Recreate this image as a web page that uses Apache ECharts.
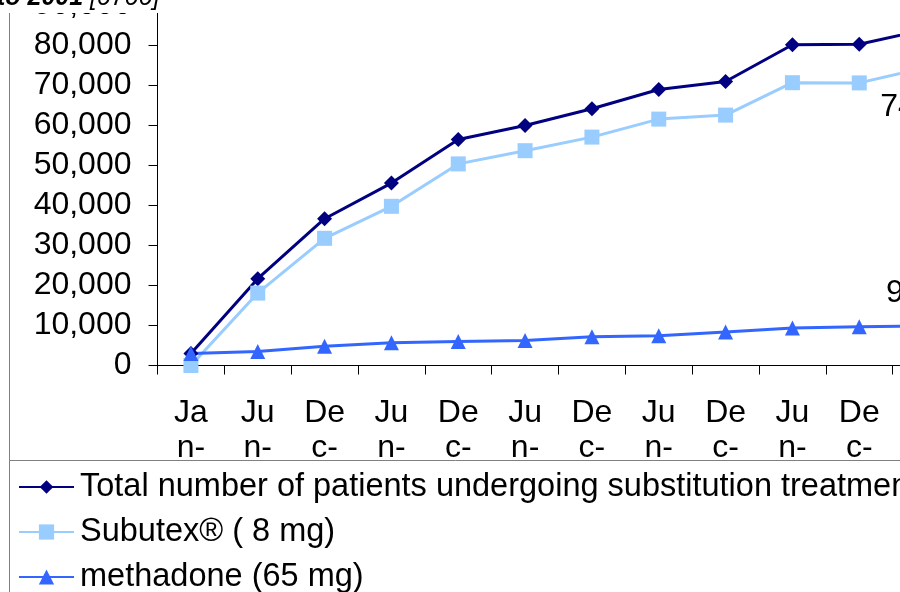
<!DOCTYPE html>
<html>
<head>
<meta charset="utf-8">
<script src="https://cdn.jsdelivr.net/npm/echarts@6/dist/echarts.min.js"></script>
<style>
  html, body { margin: 0; padding: 0; background: #fff; }
  #chart { width: 900px; height: 592px; }
</style>
</head>
<body>
<div id="chart"></div>
<script>
// Half-yearly counts of patients on substitution treatment
const periods = ['Jan-96', 'Jun-96', 'Dec-96', 'Jun-97', 'Dec-97', 'Jun-98', 'Dec-98', 'Jun-99', 'Dec-99', 'Jun-00', 'Dec-00', 'Jun-01'];
const totalPatients = [3000, 21700, 36700, 45600, 56500, 60000, 64200, 69000, 71000, 80200, 80300, 84000];
const subutex = [0, 18100, 31800, 39800, 50400, 53700, 57100, 61600, 62600, 70700, 70650, 74500];
const methadone = [3000, 3500, 4800, 5700, 6000, 6250, 7200, 7450, 8400, 9400, 9700, 9850];

const seriesNames = [
  'Total number of patients undergoing substitution treatment',
  'Subutex\u00AE ( 8 mg)',
  'methadone (65 mg)'
];

const FONT = "'Liberation Sans', Arial, sans-serif";
const FS = 32;
const lastIdx = periods.length - 1;
const fmt = v => v.toLocaleString('en-US');

// label only the final point of a series
const endLabel = (dx, dy) => ({
  show: true,
  position: 'inside',
  offset: [dx, dy],
  fontFamily: FONT,
  fontSize: FS,
  color: '#000',
  formatter: p => (p.dataIndex === lastIdx ? fmt(p.value) : '')
});

const legendBase = (name, top, itemHeight) => ({
  data: [name],
  orient: 'vertical',
  left: 18,
  top: top,
  padding: 0,
  itemGap: 0,
  itemWidth: 55,
  itemHeight: itemHeight,
  selectedMode: false,
  z: 5,
  textStyle: { fontFamily: FONT, fontSize: 32.5, lineHeight: 34, color: '#000', padding: [0, 0, 0, 1] }
});

const chart = echarts.init(document.getElementById('chart'), null, { renderer: 'canvas' });

chart.setOption({
  animation: false,
  backgroundColor: '#fff',
  grid: { left: 157.5, top: 5.5, width: 802, height: 360, outerBoundsMode: 'none', containLabel: false },
  xAxis: {
    type: 'category',
    data: periods,
    boundaryGap: true,
    axisLine: { lineStyle: { color: '#000', width: 1 } },
    axisTick: { show: true, length: 9, lineStyle: { color: '#000' } },
    axisLabel: {
      interval: 0,
      margin: 30,
      fontFamily: FONT,
      fontSize: FS,
      lineHeight: 35,
      color: '#000',
      formatter: v => v.match(/.{1,2}/g).join('\n')
    },
    splitLine: { show: false }
  },
  yAxis: {
    type: 'value',
    min: 0,
    max: 90000,
    interval: 10000,
    axisLine: { show: true, lineStyle: { color: '#000', width: 1 } },
    axisTick: { show: true, length: 9, lineStyle: { color: '#000' } },
    axisLabel: { margin: 26, fontFamily: FONT, fontSize: FS, color: '#000', formatter: v => fmt(v) },
    splitLine: { show: false }
  },
  legend: [
    legendBase(seriesNames[0], 470, 17),
    legendBase(seriesNames[1], 515, 19),
    legendBase(seriesNames[2], 560, 19)
  ],
  series: [
    {
      name: seriesNames[0], type: 'line', data: totalPatients,
      symbol: 'diamond', symbolSize: 15,
      lineStyle: { color: '#000080', width: 3 },
      itemStyle: { color: '#000080' }
    },
    {
      name: seriesNames[1], type: 'line', data: subutex,
      symbol: 'rect', symbolSize: 15,
      lineStyle: { color: '#99CCFF', width: 3 },
      itemStyle: { color: '#99CCFF' },
      label: endLabel(3, 40)
    },
    {
      name: seriesNames[2], type: 'line', data: methadone,
      symbol: 'triangle', symbolSize: [15, 15],
      lineStyle: { color: '#3366FF', width: 3 },
      itemStyle: { color: '#3366FF' },
      label: endLabel(0, -33)
    }
  ],
  graphic: [
    { type: 'line', z: 3, shape: { x1: 9.5, y1: 0, x2: 9.5, y2: 592 }, style: { stroke: '#808080', lineWidth: 1 } },
    { type: 'rect', z: 3, shape: { x: 9.5, y: 460.5, width: 1000, height: 200 }, style: { fill: '#fff', stroke: '#808080', lineWidth: 1 } },
    { type: 'rect', z: 10, shape: { x: 0, y: 0, width: 340, height: 13 }, style: { fill: '#fff' } },
    {
      type: 'text', z: 11, x: -3, y: -2,
      style: {
        text: '{b|to 2001} {i|[0700]}',
        verticalAlign: 'middle',
        fill: '#000',
        fontFamily: FONT,
        fontSize: 25,
        rich: {
          b: { fontFamily: FONT, fontSize: 25, fontWeight: 'bold', fontStyle: 'italic', fill: '#000' },
          i: { fontFamily: FONT, fontSize: 25, fontStyle: 'italic', fill: '#000' }
        }
      }
    }
  ]
});
</script>
</body>
</html>
